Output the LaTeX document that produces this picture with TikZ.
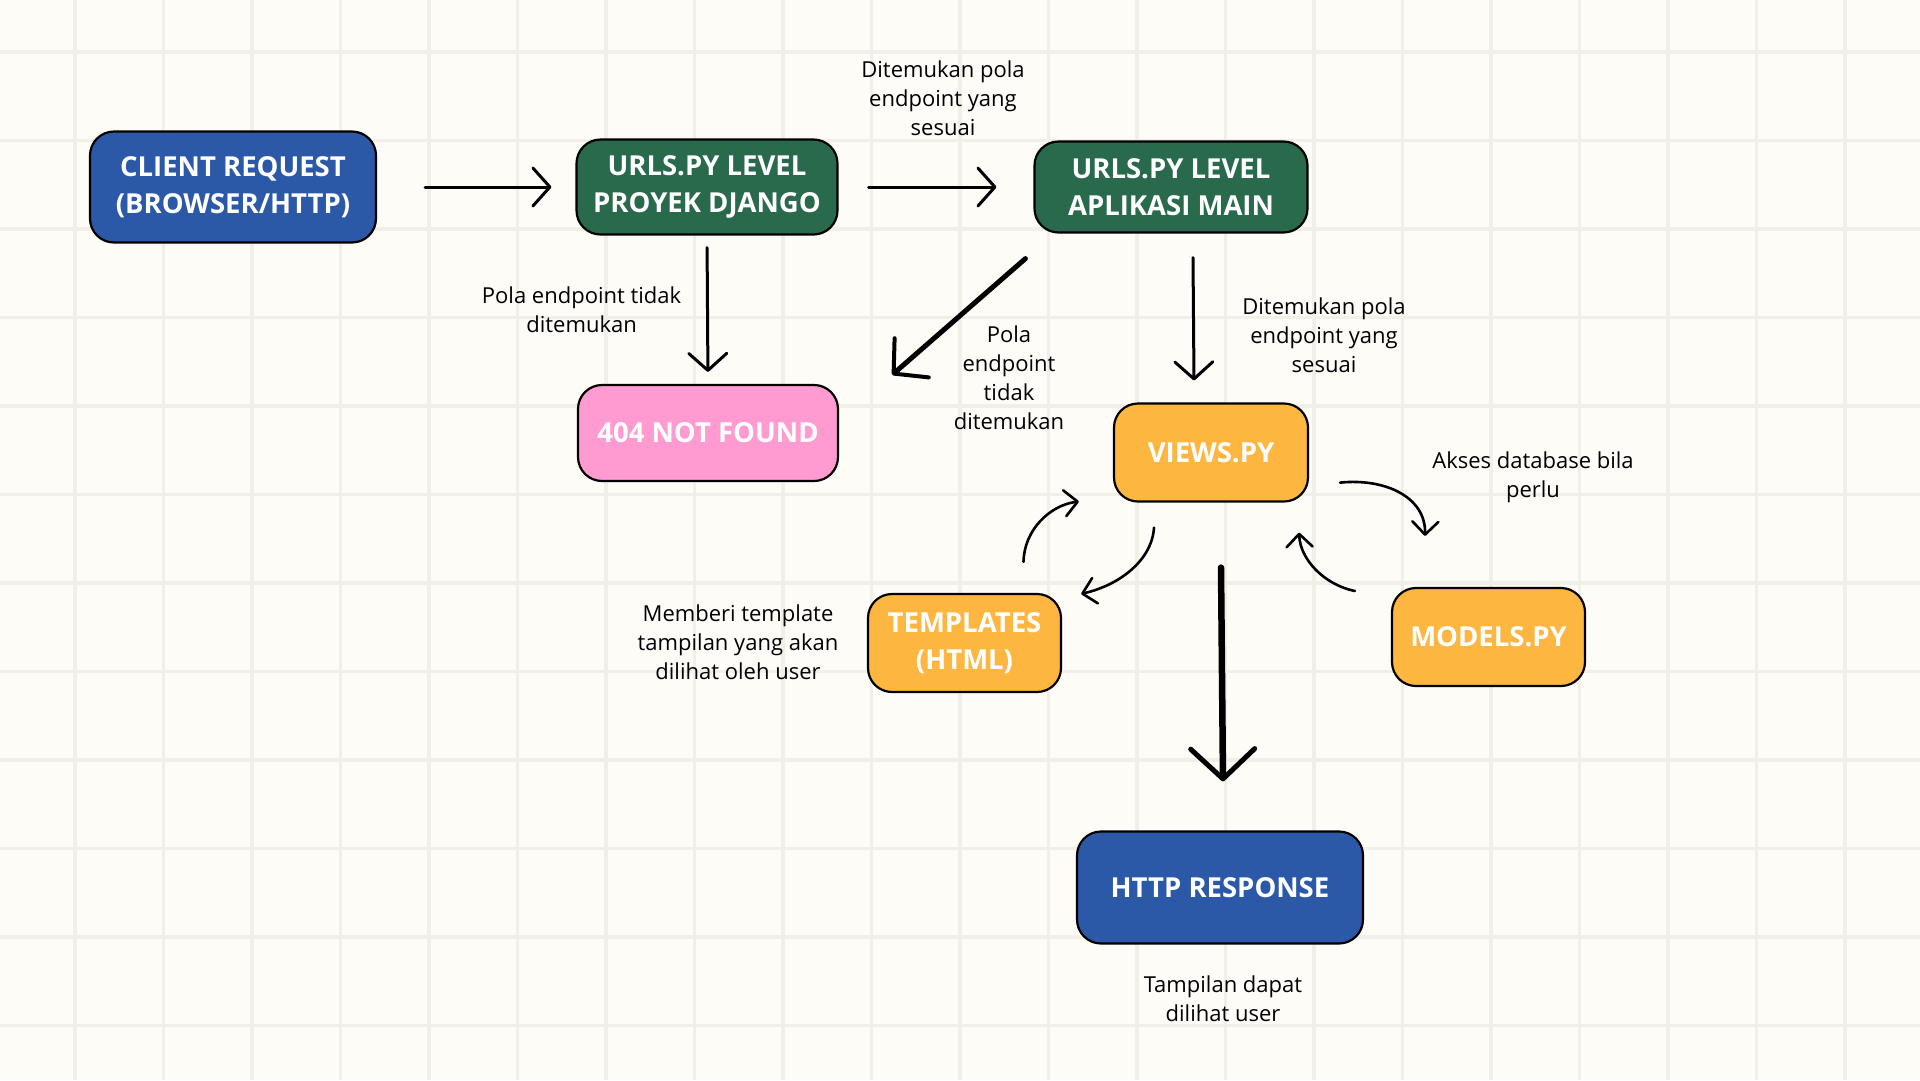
\documentclass[tikz,border=0pt]{standalone}
\usepackage{fontspec}
\setmainfont{Open Sans}
\usetikzlibrary{arrows.meta,calc}
\definecolor{bg}{HTML}{FEFCF6}
\definecolor{gridc}{HTML}{F2EFE8}
\definecolor{cblue}{HTML}{2C59A7}
\definecolor{cgreen}{HTML}{296A4D}
\definecolor{cpink}{HTML}{FF9BD1}
\definecolor{corange}{HTML}{FDB741}
\begin{document}
\begin{tikzpicture}[x=1pt,y=-1pt,
 box/.style={draw=black, line width=2.2pt, rounded corners=24pt, text=white, align=center, inner sep=0pt, font=\fontsize{27.5}{37}\selectfont\bfseries},
 lbl/.style={align=center, inner sep=0pt, text=black, font=\fontsize{22}{29}\selectfont},
 arr/.style={line width=3pt, line cap=round, -{Straight Barb[round,length=17pt,width=38pt,line width=3pt]}},
 arrc/.style={line width=2.6pt, line cap=round, -{Straight Barb[round,length=13pt,width=26pt,line width=2.6pt]}},
]
\useasboundingbox (0,0) rectangle (1920,1080);
\fill[bg] (0,0) rectangle (1920,1080);
\foreach \i in {0,...,20} \draw[gridc, line width=3.5pt] ({75+88.5*\i},0) -- ({75+88.5*\i},1080);
\foreach \j in {0,...,11} \draw[gridc, line width=3.5pt] (0,{52+88.5*\j}) -- (1920,{52+88.5*\j});

% nodes
\node[box, fill=cblue, minimum width=286pt, minimum height=111pt] (client) at (233,187) {CLIENT REQUEST\\(BROWSER/HTTP)};
\node[box, fill=cgreen, minimum width=261pt, minimum height=95pt] (proyek) at (707,187) {URLS.PY LEVEL\\PROYEK DJANGO};
\node[box, fill=cgreen, minimum width=273pt, minimum height=91pt] (aplikasi) at (1171,187) {URLS.PY LEVEL\\APLIKASI MAIN};
\node[box, fill=cpink, minimum width=260pt, minimum height=96pt] (nf) at (708,433) {404 NOT FOUND};
\node[box, fill=corange, minimum width=194pt, minimum height=98pt] (views) at (1211,452.5) {VIEWS.PY};
\node[box, fill=corange, minimum width=193pt, minimum height=98pt] (templates) at (964.5,643) {TEMPLATES\\(HTML)};
\node[box, fill=corange, minimum width=193pt, minimum height=98pt] (models) at (1488.5,637) {MODELS.PY};
\node[box, fill=cblue, minimum width=286pt, minimum height=112pt] (http) at (1220,887.5) {HTTP RESPONSE};

% labels
\node[lbl] (l1) at (943,98) {Ditemukan pola\\endpoint yang\\sesuai};
\node[lbl] (l2) at (581.6,310) {Pola endpoint tidak\\ditemukan};
\node[lbl] (l3) at (1009,378) {Pola\\endpoint\\tidak\\ditemukan};
\node[lbl] (l4) at (1324,335) {Ditemukan pola\\endpoint yang\\sesuai};
\node[lbl] (l5) at (1533,477) {Akses database bila\\perlu};
\node[lbl] (l6) at (738,642) {Memberi template\\tampilan yang akan\\dilihat oleh user};
\node[lbl] (l7) at (1223,999) {Tampilan dapat\\dilihat user};

% connectors
\draw[arr, shorten <=48pt, shorten >=24pt] (client.east) -- (proyek.west);
\draw[arr, shorten <=30pt, shorten >=37pt] (proyek.east) -- (aplikasi.west);
\draw[arr, shorten <=12pt, shorten >=12pt] (proyek.south) -- (nf.north);
\draw[line width=5pt, line cap=round, -{Straight Barb[round,length=24pt,width=52pt,line width=4pt]}] ($(aplikasi.south west)+(-8,25)$) -- ($(nf.north east)+(53,-9)$);
\draw[arr] ($(aplikasi.south)+(22,24)$) -- ($(views.north)+(-17,-22)$);
\draw[arrc] ($(views.south east)+(31,-20)$) .. controls (1385,478) and (1426,497) .. ($(models.north)+(-63.5,-51)$);
\draw[arrc] ($(models.west)+(-36,-46)$) .. controls (1325,585) and (1300,560) .. ($(views.south east)+(-10,30)$);
\draw[arrc] ($(views.south)+(-57,25)$) .. controls (1152,560) and (1120,585) .. ($(templates.north east)+(19,1)$);
\draw[arrc] ($(templates.north)+(59,-31)$) .. controls (1024,530) and (1050,505) .. ($(views.west)+(-34,49)$);
\draw[line width=6.5pt, line cap=round, -{Straight Barb[round,length=30pt,width=64pt,line width=5pt]}] ($(views.south)+(10,65)$) -- ($(http.north)+(3,-49)$);
\end{tikzpicture}
\end{document}
